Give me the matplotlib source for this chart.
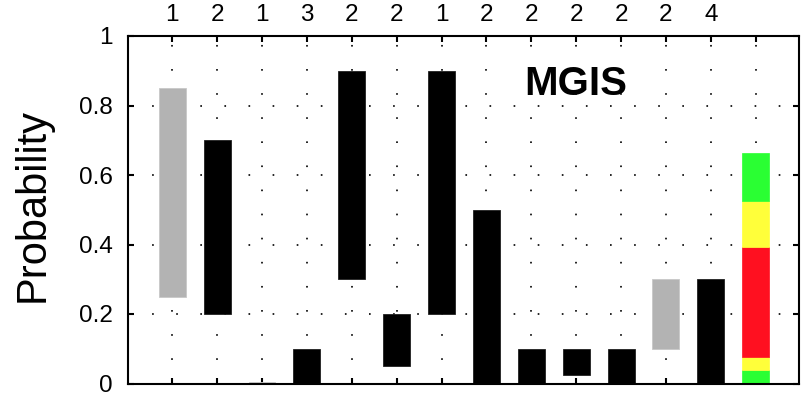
import matplotlib
matplotlib.use("Agg")
import matplotlib.pyplot as plt

plt.rcParams['font.family'] = ['Liberation Sans', 'DejaVu Sans']

# ---- data ----
positions = list(range(1, 15))
top_labels = ['1', '2', '1', '3', '2', '2', '1', '2', '2', '2', '2', '2', '4', '']
bar_low = [0.25, 0.20, 0.0, 0.0, 0.30, 0.05, 0.20, 0.0, 0.0, 0.025, 0.0, 0.10, 0.0]
bar_high = [0.85, 0.70, 0.004, 0.10, 0.90, 0.20, 0.90, 0.50, 0.10, 0.10, 0.10, 0.30, 0.30]
bar_gray = [True, False, True, False, False, False, False, False, False, False, False, True, False]
# stacked coloured column (position 14): segment boundaries and colours
stack_bounds = [0.0, 0.04, 0.077, 0.392, 0.525, 0.662]
stack_colors = ['#2aff33', '#ffff3a', '#ff1020', '#ffff3a', '#2aff33']
y_ticks = [0, 0.2, 0.4, 0.6, 0.8, 1.0]
y_ticklabels = ['0', '0.2', '0.4', '0.6', '0.8', '1']
panel_title = 'MGIS'
y_label = 'Probability'

W, H = 801, 394
fig = plt.figure(figsize=(W / 100, H / 100), dpi=100)
left, right, bottom, top = 128.3, 799.0, 383.5, 36.0
ax = fig.add_axes([left / W, 1 - bottom / H, (right - left) / W, (bottom - top) / H])

# grid: sparse dots
lw = 1.2
period_pt = 24.1 * 72 / 100
ax.set_axisbelow(True)
ax.grid(True, color='black', linewidth=lw, linestyle=(0, (1, (period_pt - lw) / lw)),
        dash_capstyle='butt')

# floating bars
for x, lo, hi, g in zip(positions[:13], bar_low, bar_high, bar_gray):
    ax.bar(x, hi - lo, bottom=lo, width=0.6,
           color='#b3b3b3' if g else 'black',
           edgecolor='#c8c8c8' if g else '#202020', linewidth=0.6, zorder=2)

# stacked coloured column
for i, c in enumerate(stack_colors):
    lo, hi = stack_bounds[i], stack_bounds[i + 1]
    ax.bar(positions[13], hi - lo, bottom=lo, width=0.6, color=c,
           edgecolor=c, linewidth=0.5, zorder=2)

ax.set_xlim(0.02, 14.965)
ax.set_ylim(0, 1)
ax.set_xticks(positions)
ax.set_xticklabels(top_labels)
ax.set_yticks(y_ticks)
ax.set_yticklabels(y_ticklabels)

ax.tick_params(axis='x', which='both', direction='in', top=True, bottom=True,
               labeltop=True, labelbottom=False, length=4.5, width=1.5,
               labelsize=17.5, pad=7)
ax.tick_params(axis='y', which='both', direction='in', left=True, right=True,
               labelleft=True, labelright=False, length=4.5, width=1.5,
               labelsize=17.5, pad=11)
for s in ax.spines.values():
    s.set_linewidth(1.5)

ax.text(10, 0.83, panel_title, fontsize=29, fontweight='bold', ha='center', va='baseline')

fig.text(32.3 / W, 1 - 205.5 / H, y_label, rotation=90, fontsize=30,
         ha='center', va='center')

fig.savefig('out.png', dpi=100)
